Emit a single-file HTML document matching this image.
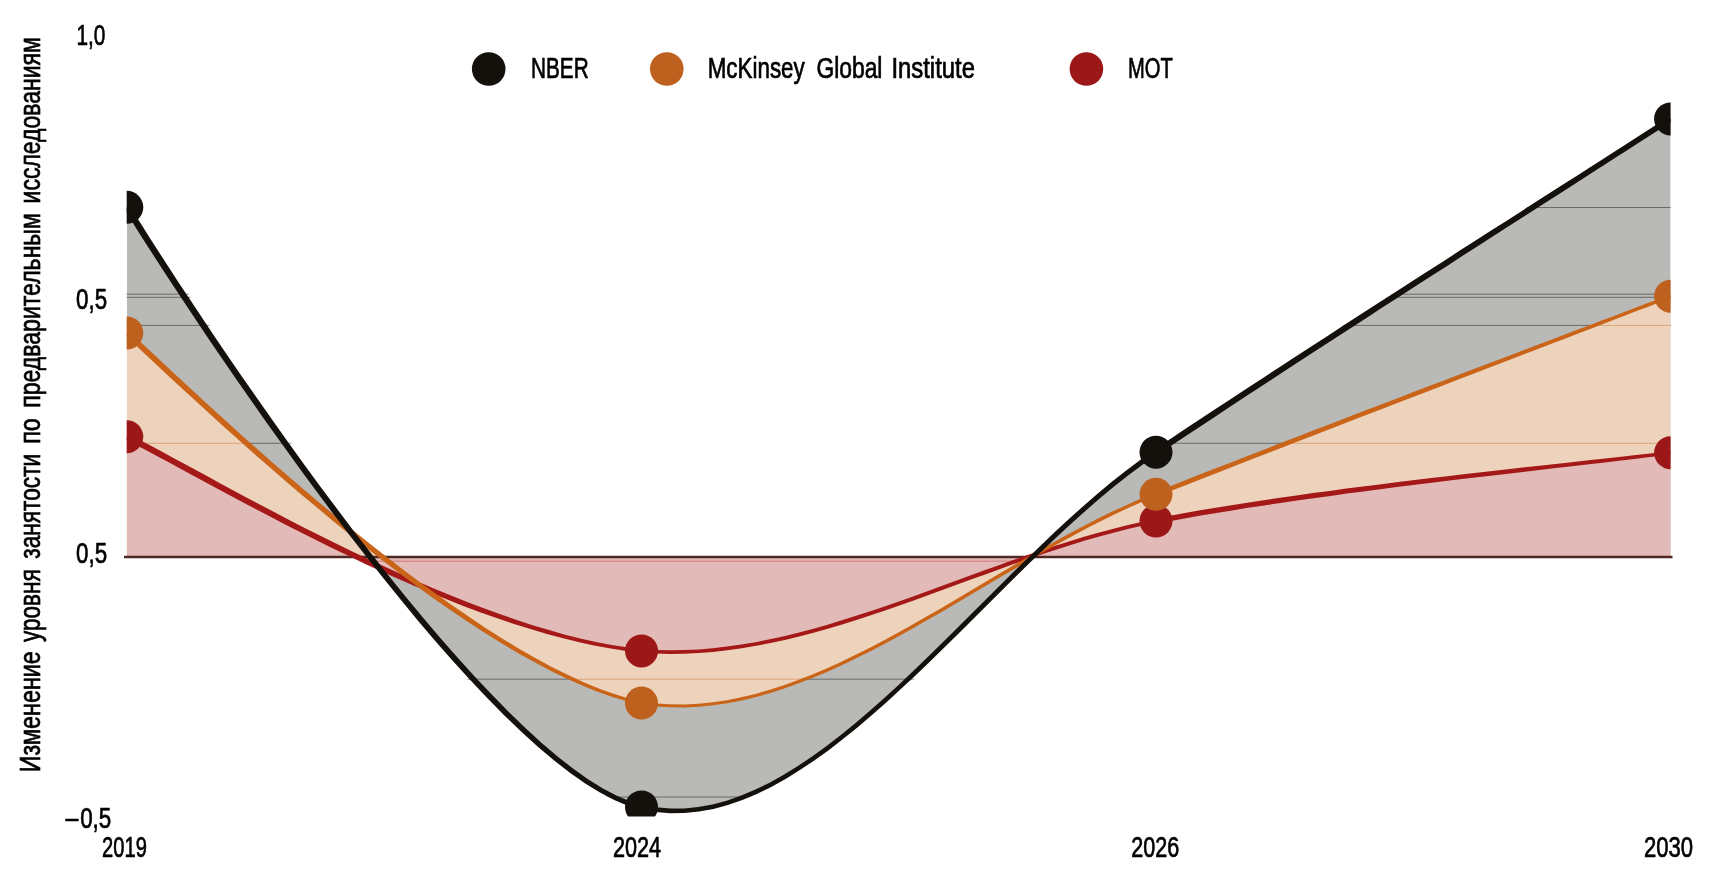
<!DOCTYPE html>
<html lang="ru"><head><meta charset="utf-8"><title>Изменение уровня занятости</title>
<style>html,body{margin:0;padding:0;background:#fff;overflow:hidden}svg{display:block;filter:blur(0.45px)}text{font-family:"Liberation Sans",sans-serif;font-size:28.9px;fill:#000;stroke:#000;stroke-width:0.7px}</style></head><body>
<svg width="1718" height="873" viewBox="0 0 1718 873">
<defs><clipPath id="plot"><rect x="126.70" y="0" width="1543.90" height="816.50"/></clipPath>
<mask id="narea" maskUnits="userSpaceOnUse" x="0" y="0" width="1718" height="873"><g fill="#fff"><path d="M126.80 207.30 C188.50 307.00 492.40 775.40 641.50 807.00 C813.03 847.82 984.48 566.88 1156.00 452.20 C1327.52 337.52 1584.83 174.45 1670.60 118.90 L1670.60 557.00 L126.80 557.00 Z"/><path transform="translate(-6 0)" d="M126.80 207.30 C188.50 307.00 492.40 775.40 641.50 807.00 C813.03 847.82 984.48 566.88 1156.00 452.20 C1327.52 337.52 1584.83 174.45 1670.60 118.90 L1670.60 557.00 L126.80 557.00 Z"/><path transform="translate(6 0)" d="M126.80 207.30 C188.50 307.00 492.40 775.40 641.50 807.00 C813.03 847.82 984.48 566.88 1156.00 452.20 C1327.52 337.52 1584.83 174.45 1670.60 118.90 L1670.60 557.00 L126.80 557.00 Z"/></g></mask>
<clipPath id="marea"><path d="M126.80 333.00 C203.60 404.20 476.40 669.50 641.50 703.10 C813.03 729.98 984.48 562.12 1156.00 494.30 C1327.52 426.48 1584.83 329.22 1670.60 296.20 L1670.60 557.00 L126.80 557.00 Z"/></clipPath>
</defs>
<rect width="1718" height="873" fill="#fff"/>
<g clip-path="url(#plot)">
<path d="M126.80 207.30 C188.50 307.00 492.40 775.40 641.50 807.00 C813.03 847.82 984.48 566.88 1156.00 452.20 C1327.52 337.52 1584.83 174.45 1670.60 118.90 L1670.60 557.00 L126.80 557.00 Z" fill="#b9b9b7"/>
<g mask="url(#narea)"><g stroke="#2c2c2a" stroke-width="0.65" stroke-opacity="0.85"><line x1="0" x2="1718" y1="207.5" y2="207.5"/><line x1="0" x2="1718" y1="294.2" y2="294.2"/><line x1="0" x2="1718" y1="297.3" y2="297.3"/><line x1="0" x2="1718" y1="325.4" y2="325.4"/><line x1="0" x2="1718" y1="443.3" y2="443.3"/><line x1="0" x2="1718" y1="679.2" y2="679.2"/><line x1="0" x2="1718" y1="797.0" y2="797.0"/></g></g>
<path d="M126.80 333.00 C203.60 404.20 476.40 669.50 641.50 703.10 C813.03 729.98 984.48 562.12 1156.00 494.30 C1327.52 426.48 1584.83 329.22 1670.60 296.20 L1670.60 557.00 L126.80 557.00 Z" fill="#eed3bc"/>
<g clip-path="url(#marea)"><g stroke="#d08a55" stroke-width="0.75" stroke-opacity="0.9"><line x1="0" x2="1718" y1="207.5" y2="207.5"/><line x1="0" x2="1718" y1="294.2" y2="294.2"/><line x1="0" x2="1718" y1="297.3" y2="297.3"/><line x1="0" x2="1718" y1="325.4" y2="325.4"/><line x1="0" x2="1718" y1="443.3" y2="443.3"/><line x1="0" x2="1718" y1="679.2" y2="679.2"/><line x1="0" x2="1718" y1="797.0" y2="797.0"/></g></g>
<path d="M126.80 436.70 C214.10 480.40 463.20 633.10 641.50 650.90 C813.03 664.95 984.48 554.03 1156.00 521.00 C1327.52 487.97 1584.83 464.08 1670.60 452.70 L1670.60 557.00 L126.80 557.00 Z" fill="#e2bab8"/>
<clipPath id="tarea"><path d="M126.80 436.70 C214.10 480.40 463.20 633.10 641.50 650.90 C813.03 664.95 984.48 554.03 1156.00 521.00 C1327.52 487.97 1584.83 464.08 1670.60 452.70 L1670.60 557.00 L126.80 557.00 Z"/></clipPath>
<line x1="360" x2="1035" y1="561.2" y2="561.2" stroke="#c23a3c" stroke-width="0.6" stroke-opacity="0.85" clip-path="url(#tarea)"/>
</g>
<line x1="124" x2="1672.5" y1="557.0" y2="557.0" stroke="#4f2824" stroke-width="2.4"/>
<g clip-path="url(#plot)">
<path d="M125.4 439.5 L133.0 443.3 L141.4 447.7 L150.4 452.5 L160.1 457.7 L170.5 463.3 L181.4 469.2 L192.9 475.4 L205.0 482.0 L217.5 488.8 L230.6 495.8 L244.1 503.0 L258.0 510.3 L272.4 517.8 L287.0 525.4 L302.1 533.0 L317.4 540.7 L333.0 548.4 L348.8 556.1 L364.8 563.7 L381.1 571.2 L397.5 578.5 L414.0 585.8 L430.6 592.8 L447.2 599.6 L463.9 606.2 L480.7 612.4 L497.3 618.3 L514.0 623.9 L530.5 629.1 L546.9 633.9 L563.2 638.3 L579.3 642.2 L595.2 645.7 L610.8 648.6 L626.2 650.9 L641.3 652.7 L655.7 653.5 L670.1 653.9 L684.4 653.7 L698.8 653.0 L713.1 651.9 L727.5 650.3 L741.8 648.2 L756.2 645.8 L770.5 643.0 L784.9 639.9 L799.2 636.4 L813.5 632.7 L827.8 628.7 L842.2 624.4 L856.5 620.0 L870.8 615.3 L885.1 610.5 L899.4 605.5 L913.7 600.4 L928.0 595.3 L942.3 590.1 L956.6 584.8 L970.9 579.6 L985.2 574.4 L999.5 569.2 L1013.7 564.1 L1028.0 559.1 L1042.3 554.2 L1056.6 549.5 L1070.8 545.0 L1085.1 540.6 L1099.4 536.5 L1113.6 532.7 L1127.9 529.1 L1142.1 525.8 L1156.4 523.2 L1171.0 520.9 L1185.8 518.2 L1201.0 515.5 L1216.4 512.9 L1232.2 510.4 L1248.1 507.8 L1264.3 505.4 L1280.6 502.9 L1297.1 500.6 L1313.6 498.2 L1330.3 495.9 L1346.9 493.6 L1363.6 491.4 L1380.2 489.2 L1396.8 487.1 L1413.2 485.1 L1429.6 483.0 L1445.7 481.1 L1461.7 479.1 L1477.4 477.3 L1492.9 475.4 L1508.1 473.7 L1522.9 471.9 L1537.4 470.3 L1551.5 468.6 L1565.2 467.1 L1578.4 465.5 L1591.1 464.1 L1603.2 462.7 L1614.8 461.3 L1625.8 460.0 L1636.2 458.8 L1645.9 457.6 L1655.0 456.5 L1663.3 455.4 L1670.8 454.4 L1670.4 451.0 L1662.8 451.9 L1654.5 452.9 L1645.5 454.0 L1635.8 455.1 L1625.4 456.3 L1614.4 457.5 L1602.8 458.8 L1590.6 460.1 L1577.9 461.5 L1564.7 463.0 L1551.0 464.5 L1536.9 466.0 L1522.4 467.6 L1507.6 469.2 L1492.4 470.9 L1476.9 472.7 L1461.2 474.5 L1445.2 476.4 L1429.0 478.3 L1412.6 480.3 L1396.2 482.3 L1379.6 484.4 L1362.9 486.5 L1346.3 488.6 L1329.6 490.9 L1312.9 493.1 L1296.3 495.4 L1279.9 497.8 L1263.5 500.2 L1247.3 502.7 L1231.3 505.2 L1215.6 507.7 L1200.1 510.3 L1184.9 513.0 L1170.0 515.7 L1155.6 518.8 L1141.3 522.1 L1127.0 525.3 L1112.6 528.9 L1098.3 532.7 L1084.0 536.8 L1069.7 541.2 L1055.3 545.7 L1041.0 550.4 L1026.7 555.3 L1012.4 560.3 L998.1 565.4 L983.8 570.6 L969.5 575.8 L955.2 581.1 L940.9 586.3 L926.7 591.5 L912.4 596.7 L898.1 601.7 L883.8 606.7 L869.5 611.5 L855.3 616.1 L841.0 620.6 L826.8 624.9 L812.5 628.9 L798.2 632.7 L784.0 636.2 L769.8 639.3 L755.5 642.2 L741.3 644.6 L727.0 646.6 L712.8 648.3 L698.6 649.4 L684.3 650.1 L670.1 650.3 L655.9 650.0 L641.7 649.1 L626.7 647.3 L611.5 644.9 L596.0 641.9 L580.2 638.4 L564.2 634.4 L548.1 629.8 L531.8 624.9 L515.4 619.5 L498.9 613.8 L482.4 607.7 L465.8 601.4 L449.2 594.7 L432.6 587.9 L416.1 580.8 L399.7 573.5 L383.4 566.1 L367.2 558.6 L351.2 551.0 L335.5 543.3 L319.9 535.6 L304.7 527.9 L289.7 520.2 L275.1 512.6 L260.8 505.1 L246.9 497.7 L233.4 490.5 L220.4 483.4 L207.9 476.6 L195.8 470.1 L184.3 463.8 L173.4 457.9 L163.0 452.3 L153.3 447.0 L144.2 442.2 L135.9 437.8 L128.2 433.9Z" fill="#a51818"/>
<path d="M124.8 335.1 L131.7 341.5 L139.4 348.7 L147.9 356.7 L157.3 365.4 L167.4 374.9 L178.2 384.9 L189.7 395.5 L201.8 406.6 L214.5 418.2 L227.8 430.2 L241.6 442.6 L255.8 455.2 L270.6 468.1 L285.7 481.2 L301.2 494.4 L317.0 507.6 L333.0 520.9 L349.4 534.2 L365.9 547.4 L382.6 560.4 L399.4 573.3 L416.4 585.9 L433.3 598.2 L450.3 610.1 L467.3 621.5 L484.2 632.5 L501.1 643.0 L517.7 652.9 L534.2 662.1 L550.5 670.7 L566.5 678.5 L582.2 685.5 L597.5 691.7 L612.5 697.0 L627.1 701.3 L641.2 704.6 L655.7 706.4 L670.0 707.3 L684.4 707.5 L698.8 706.8 L713.2 705.3 L727.5 703.2 L741.9 700.4 L756.2 696.9 L770.6 692.9 L784.9 688.3 L799.3 683.1 L813.6 677.5 L828.0 671.4 L842.3 665.0 L856.6 658.1 L871.0 650.9 L885.3 643.5 L899.6 635.7 L913.9 627.8 L928.2 619.6 L942.5 611.4 L956.8 603.0 L971.1 594.5 L985.4 586.1 L999.7 577.6 L1014.0 569.2 L1028.3 560.9 L1042.5 552.6 L1056.8 544.6 L1071.1 536.8 L1085.4 529.1 L1099.6 521.8 L1113.9 514.8 L1128.1 508.1 L1142.4 501.8 L1156.8 496.2 L1171.4 490.8 L1186.2 485.0 L1201.4 479.0 L1216.9 472.9 L1232.6 466.8 L1248.6 460.6 L1264.7 454.3 L1281.1 448.0 L1297.6 441.6 L1314.1 435.2 L1330.7 428.7 L1347.4 422.3 L1364.1 415.8 L1380.7 409.4 L1397.3 403.1 L1413.7 396.7 L1430.1 390.4 L1446.2 384.2 L1462.2 378.1 L1477.9 372.1 L1493.4 366.1 L1508.6 360.3 L1523.4 354.6 L1537.9 349.0 L1552.0 343.6 L1565.6 338.4 L1578.8 333.3 L1591.5 328.5 L1603.7 323.8 L1615.3 319.3 L1626.3 315.1 L1636.6 311.1 L1646.4 307.4 L1655.4 303.9 L1663.7 300.7 L1671.2 297.8 L1670.0 294.6 L1662.4 297.5 L1654.1 300.7 L1645.1 304.1 L1635.4 307.8 L1625.0 311.7 L1614.0 315.9 L1602.3 320.3 L1590.2 324.9 L1577.4 329.8 L1564.2 334.8 L1550.6 339.9 L1536.5 345.3 L1522.0 350.8 L1507.1 356.4 L1491.9 362.2 L1476.4 368.1 L1460.7 374.1 L1444.7 380.2 L1428.5 386.3 L1412.1 392.6 L1395.7 398.9 L1379.1 405.2 L1362.4 411.6 L1345.8 418.0 L1329.1 424.4 L1312.4 430.8 L1295.9 437.2 L1279.4 443.6 L1263.0 449.9 L1246.9 456.2 L1230.9 462.4 L1215.1 468.5 L1199.6 474.6 L1184.5 480.5 L1169.6 486.4 L1155.2 492.4 L1141.0 498.6 L1126.7 504.9 L1112.3 511.6 L1098.0 518.6 L1083.7 526.0 L1069.4 533.6 L1055.1 541.5 L1040.8 549.6 L1026.5 557.8 L1012.2 566.1 L997.9 574.6 L983.6 583.0 L969.3 591.5 L955.0 600.0 L940.8 608.4 L926.5 616.6 L912.2 624.8 L897.9 632.7 L883.7 640.4 L869.4 647.9 L855.1 655.1 L840.9 661.9 L826.6 668.4 L812.4 674.5 L798.1 680.1 L783.9 685.2 L769.7 689.8 L755.4 693.9 L741.2 697.3 L727.0 700.2 L712.8 702.3 L698.6 703.7 L684.4 704.4 L670.1 704.3 L655.9 703.4 L641.8 701.6 L627.9 698.2 L613.6 693.8 L598.8 688.5 L583.6 682.3 L568.1 675.1 L552.3 667.2 L536.2 658.6 L519.9 649.2 L503.4 639.2 L486.7 628.7 L470.0 617.6 L453.2 606.0 L436.3 594.1 L419.4 581.8 L402.6 569.2 L385.8 556.3 L369.2 543.3 L352.7 530.1 L336.4 516.8 L320.4 503.5 L304.7 490.2 L289.3 477.0 L274.2 463.9 L259.5 451.0 L245.3 438.4 L231.5 426.0 L218.3 414.0 L205.6 402.5 L193.5 391.3 L182.1 380.7 L171.3 370.7 L161.2 361.2 L151.9 352.5 L143.3 344.5 L135.6 337.3 L128.8 330.9Z" fill="#c96418"/>
<path d="M124.1 209.0 L129.8 218.1 L136.6 228.9 L144.4 241.2 L153.1 254.8 L162.8 269.7 L173.4 285.9 L184.7 303.1 L196.8 321.3 L209.7 340.4 L223.2 360.2 L237.3 380.7 L252.0 401.8 L267.2 423.4 L282.9 445.3 L298.9 467.5 L315.3 489.8 L332.1 512.2 L349.0 534.5 L366.2 556.6 L383.6 578.5 L401.0 600.1 L418.4 621.2 L435.9 641.7 L453.3 661.6 L470.7 680.6 L487.9 698.8 L504.9 716.0 L521.6 732.1 L538.1 747.0 L554.2 760.6 L569.9 772.8 L585.2 783.5 L600.0 792.6 L614.2 800.1 L627.9 805.7 L641.0 809.3 L655.5 812.0 L670.0 813.2 L684.5 813.1 L699.0 811.6 L713.5 808.9 L727.9 805.0 L742.4 800.0 L756.8 794.0 L771.2 786.9 L785.6 779.0 L799.9 770.1 L814.3 760.5 L828.7 750.2 L843.0 739.1 L857.4 727.5 L871.7 715.3 L886.0 702.7 L900.3 689.6 L914.7 676.2 L929.0 662.5 L943.3 648.5 L957.6 634.4 L971.9 620.2 L986.2 605.9 L1000.5 591.7 L1014.8 577.5 L1029.1 563.5 L1043.4 549.7 L1057.6 536.2 L1071.9 523.0 L1086.2 510.2 L1100.5 497.8 L1114.7 486.0 L1129.0 474.8 L1143.2 464.2 L1157.6 454.6 L1172.2 445.1 L1187.0 435.2 L1202.2 425.2 L1217.7 415.0 L1233.4 404.6 L1249.4 394.1 L1265.6 383.5 L1281.9 372.8 L1298.4 362.1 L1314.9 351.3 L1331.6 340.5 L1348.2 329.7 L1364.9 318.9 L1381.5 308.1 L1398.1 297.4 L1414.6 286.8 L1430.9 276.3 L1447.1 265.9 L1463.0 255.6 L1478.8 245.5 L1494.2 235.5 L1509.4 225.8 L1524.3 216.2 L1538.7 206.9 L1552.8 197.9 L1566.5 189.2 L1579.7 180.7 L1592.4 172.6 L1604.5 164.7 L1616.1 157.3 L1627.2 150.2 L1637.5 143.6 L1647.3 137.3 L1656.3 131.5 L1664.6 126.1 L1672.1 121.3 L1669.1 116.5 L1661.5 121.4 L1653.2 126.8 L1644.2 132.6 L1634.5 138.8 L1624.1 145.5 L1613.1 152.5 L1601.5 160.0 L1589.3 167.7 L1576.6 175.9 L1563.4 184.3 L1549.7 193.1 L1535.6 202.1 L1521.1 211.4 L1506.3 220.9 L1491.1 230.6 L1475.6 240.5 L1459.8 250.6 L1443.9 260.9 L1427.7 271.3 L1411.3 281.8 L1394.8 292.4 L1378.3 303.1 L1361.6 313.8 L1344.9 324.6 L1328.3 335.4 L1311.6 346.2 L1295.0 357.0 L1278.6 367.7 L1262.2 378.4 L1246.0 389.0 L1230.1 399.5 L1214.3 409.8 L1198.8 420.0 L1183.6 430.1 L1168.8 440.0 L1154.4 449.8 L1140.2 460.0 L1125.9 470.7 L1111.5 482.1 L1097.2 494.0 L1082.9 506.4 L1068.6 519.3 L1054.3 532.6 L1040.0 546.2 L1025.7 560.0 L1011.4 574.1 L997.1 588.3 L982.8 602.5 L968.5 616.8 L954.2 631.0 L940.0 645.1 L925.7 659.1 L911.4 672.8 L897.2 686.2 L882.9 699.2 L868.7 711.8 L854.4 724.0 L840.2 735.5 L825.9 746.5 L811.7 756.8 L797.5 766.3 L783.3 775.0 L769.1 782.9 L754.9 789.8 L740.7 795.8 L726.6 800.7 L712.5 804.5 L698.3 807.1 L684.3 808.5 L670.2 808.6 L656.1 807.3 L642.0 804.7 L629.5 801.1 L616.3 795.6 L602.5 788.3 L588.0 779.3 L573.0 768.6 L557.6 756.5 L541.7 742.9 L525.4 728.1 L508.8 712.0 L492.0 694.8 L474.9 676.7 L457.7 657.7 L440.3 637.9 L422.9 617.5 L405.5 596.4 L388.1 574.9 L370.8 553.1 L353.7 530.9 L336.8 508.6 L320.1 486.2 L303.8 463.9 L287.8 441.7 L272.2 419.8 L257.1 398.3 L242.4 377.2 L228.3 356.7 L214.9 336.9 L202.1 317.8 L190.0 299.6 L178.6 282.4 L168.1 266.3 L158.5 251.4 L149.7 237.7 L142.0 225.5 L135.2 214.7 L129.5 205.6Z" fill="#14110d"/>
<circle cx="126.8" cy="436.7" r="16.5" fill="#9c1717"/>
<circle cx="641.5" cy="650.9" r="16.5" fill="#9c1717"/>
<circle cx="1156.0" cy="521.0" r="16.5" fill="#9c1717"/>
<circle cx="1670.6" cy="452.7" r="16.5" fill="#9c1717"/>
<circle cx="126.8" cy="333.0" r="16.5" fill="#be601e"/>
<circle cx="641.5" cy="703.1" r="16.5" fill="#be601e"/>
<circle cx="1156.0" cy="494.3" r="16.5" fill="#be601e"/>
<circle cx="1670.6" cy="296.2" r="16.5" fill="#be601e"/>
<circle cx="126.8" cy="207.3" r="16.5" fill="#14110d"/>
<circle cx="641.5" cy="807.0" r="16.5" fill="#14110d"/>
<circle cx="1156.0" cy="452.2" r="16.5" fill="#14110d"/>
<circle cx="1670.6" cy="118.9" r="16.5" fill="#14110d"/>
</g>
<circle cx="488.7" cy="69" r="16.8" fill="#14110d"/>
<circle cx="666.8" cy="69" r="16.8" fill="#be601e"/>
<circle cx="1086.4" cy="69" r="16.8" fill="#9c1717"/>
<text x="531.05" y="77.60" textLength="57.60" lengthAdjust="spacingAndGlyphs">NBER</text>
<text x="707.65" y="77.60" textLength="97.10" lengthAdjust="spacingAndGlyphs">McKinsey</text>
<text x="816.40" y="77.60" textLength="66.05" lengthAdjust="spacingAndGlyphs">Global</text>
<text x="891.40" y="77.60" textLength="83.55" lengthAdjust="spacingAndGlyphs">Institute</text>
<text x="1128.10" y="77.60" textLength="44.75" lengthAdjust="spacingAndGlyphs">МОТ</text>
<text x="76.40" y="44.90" textLength="28.95" lengthAdjust="spacingAndGlyphs">1,0</text>
<text x="76.10" y="308.90" textLength="31.05" lengthAdjust="spacingAndGlyphs">0,5</text>
<text x="76.10" y="562.90" textLength="31.05" lengthAdjust="spacingAndGlyphs">0,5</text>
<text x="65.45" y="827.70" textLength="12.80" lengthAdjust="spacingAndGlyphs">–</text>
<text x="80.15" y="827.70" textLength="31.10" lengthAdjust="spacingAndGlyphs">0,5</text>
<text x="102.00" y="857.00" textLength="44.85" lengthAdjust="spacingAndGlyphs">2019</text>
<text x="612.90" y="857.00" textLength="48.20" lengthAdjust="spacingAndGlyphs">2024</text>
<text x="1131.20" y="857.00" textLength="47.95" lengthAdjust="spacingAndGlyphs">2026</text>
<text x="1643.90" y="857.00" textLength="49.15" lengthAdjust="spacingAndGlyphs">2030</text>
<g transform="translate(40.2 0) rotate(-90)">
<text x="-772.30" y="0.00" textLength="121.00" lengthAdjust="spacingAndGlyphs">Изменение</text>
<text x="-642.05" y="0.00" textLength="72.70" lengthAdjust="spacingAndGlyphs">уровня</text>
<text x="-558.75" y="0.00" textLength="104.95" lengthAdjust="spacingAndGlyphs">занятости</text>
<text x="-443.80" y="0.00" textLength="25.60" lengthAdjust="spacingAndGlyphs">по</text>
<text x="-407.80" y="0.00" textLength="194.60" lengthAdjust="spacingAndGlyphs">предварительным</text>
<text x="-203.45" y="0.00" textLength="166.25" lengthAdjust="spacingAndGlyphs">исследованиям</text>
</g>
</svg></body></html>
